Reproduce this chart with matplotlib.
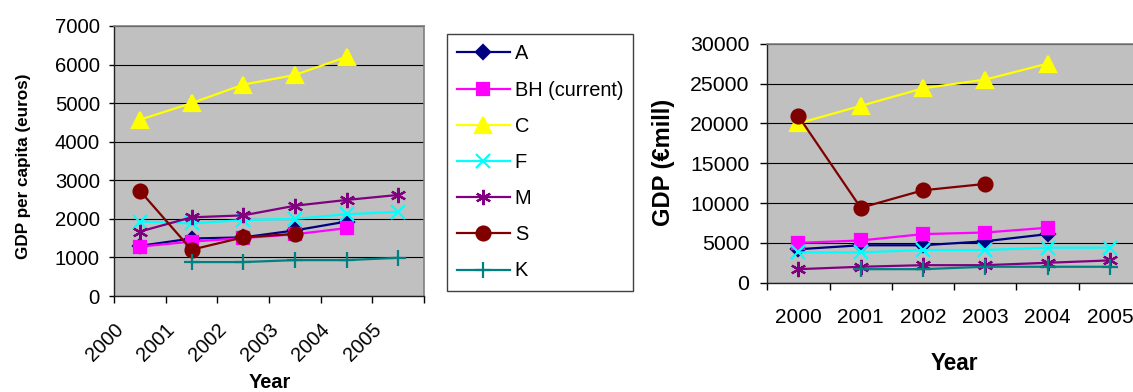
import numpy as np
import matplotlib
matplotlib.use("Agg")
import matplotlib.pyplot as plt
from matplotlib import font_manager
from matplotlib.transforms import ScaledTranslation

nan = np.nan
years = ['2000', '2001', '2002', '2003', '2004', '2005']
series = ['A', 'BH (current)', 'C', 'F', 'M', 'S', 'K']

# GDP per capita (euros)
pc_A = [1300, 1490, 1520, 1700, 1930, nan]
pc_BH = [1280, 1410, 1500, 1600, 1760, nan]
pc_C = [4570, 5000, 5480, 5730, 6200, nan]
pc_F = [1930, 1880, 1970, 2000, 2120, 2180]
pc_M = [1670, 2040, 2090, 2340, 2490, 2620]
pc_S = [2730, 1200, 1520, 1610, nan, nan]
pc_K = [nan, 880, 880, 930, 930, 990]

# GDP (EUR mill)
gdp_A = [4200, 4700, 4700, 5200, 6100, nan]
gdp_BH = [5000, 5300, 6100, 6300, 6900, nan]
gdp_C = [20000, 22200, 24400, 25500, 27500, nan]
gdp_F = [3800, 3800, 4100, 4100, 4400, 4400]
gdp_M = [1700, 2000, 2200, 2200, 2500, 2800]
gdp_S = [20900, 9400, 11600, 12400, nan, nan]
gdp_K = [nan, 1700, 1700, 2000, 2000, 2000]

colors = ['#000080', '#FF00FF', '#FFFF00', '#00FFFF', '#800080', '#800000', '#008080']
markers = ['D', 's', '^', 'x', (6, 2, 0), 'o', '+']
msizes = [7, 9, 11, 10, 11, 10, 11]

def has_font(name):
    try:
        font_manager.findfont(font_manager.FontProperties(family=name), fallback_to_default=False)
        return True
    except Exception:
        return False

base = 'Liberation Sans' if has_font('Liberation Sans') else 'DejaVu Sans'
plt.rcParams['font.family'] = [base, 'DejaVu Sans']

W, H = 1133, 392
fig = plt.figure(figsize=(W / 100, H / 100), dpi=100)

def px(x0, y0, x1, y1):
    return [x0 / W, 1 - y1 / H, (x1 - x0) / W, (y1 - y0) / H]

ax1 = fig.add_axes(px(114, 26, 424, 296))
ax2 = fig.add_axes(px(767.3, 43.7, 1141, 282.7))

left_data = [pc_A, pc_BH, pc_C, pc_F, pc_M, pc_S, pc_K]
right_data = [gdp_A, gdp_BH, gdp_C, gdp_F, gdp_M, gdp_S, gdp_K]
xs = np.arange(len(years))

handles = []
for ax, data in ((ax1, left_data), (ax2, right_data)):
    ax.set_facecolor('#C0C0C0')
    for name, vals, c, m, ms in zip(series, data, colors, markers, msizes):
        h, = ax.plot(xs, vals, color=c, marker=m, markersize=ms, markerfacecolor=c,
                     markeredgecolor=c, markeredgewidth=1.6, linewidth=1.6, label=name,
                     clip_on=False, zorder=3)
        if ax is ax1:
            handles.append(h)
    ax.set_xlim(-0.5, len(years) - 0.5)
    ax.set_xticks(xs)
    ax.set_xticks(np.arange(len(years) + 1) - 0.5, minor=True)
    ax.grid(axis='y', color='black', linewidth=0.8, zorder=1)
    ax.set_axisbelow(True)
    for s in ('top', 'right'):
        ax.spines[s].set_color('#808080')
        ax.spines[s].set_linewidth(1.2)
    for s in ('left', 'bottom'):
        ax.spines[s].set_color('#202020')
        ax.spines[s].set_linewidth(1.0)
    ax.tick_params(axis='x', which='major', length=0)
    ax.tick_params(axis='x', which='minor', length=5, width=1, direction='out')
    ax.tick_params(axis='y', direction='out', width=1)

# Left chart
ax1.set_ylim(0, 7000)
ax1.set_yticks(np.arange(0, 7001, 1000))
ax1.tick_params(axis='y', length=3.6, pad=6.5, labelsize=14.6)
ax1.set_xticklabels(years, rotation=45, ha='right', va='top', fontsize=14.4)
ax1.tick_params(axis='x', which='major', pad=17)
off = ScaledTranslation(-13 / 100, 0, fig.dpi_scale_trans)
for lab in ax1.get_xticklabels():
    lab.set_transform(lab.get_transform() + off)

# Right chart
ax2.set_ylim(0, 30000)
ax2.set_yticks(np.arange(0, 30001, 5000))
ax2.tick_params(axis='y', length=5, pad=8, labelsize=15.3)
ax2.set_xticklabels(years, fontsize=15)
ax2.tick_params(axis='x', which='major', pad=18.5)

# Axis titles
fig.text(23.3 / W, 1 - 166.7 / H, 'GDP per capita (euros)', rotation=90, ha='center', va='center',
         fontsize=12.3, fontweight='bold')
fig.text(270 / W, 0.001, 'Year', ha='center', va='bottom', fontsize=14.4, fontweight='bold')
fig.text(663.3 / W, 1 - 162.3 / H, 'GDP (€mill)', rotation=90, ha='center', va='center',
         fontsize=17, fontweight='bold')
fig.text(954.7 / W, 1 - 363.3 / H, 'Year', ha='center', va='center', fontsize=16.3, fontweight='bold')

# Legend
leg = fig.legend(handles=handles, loc='upper left', bbox_to_anchor=(446.7 / W, 1 - 34.3 / H),
                 bbox_transform=fig.transFigure, borderaxespad=0, fontsize=14.4,
                 frameon=True, fancybox=False, edgecolor='#404040', framealpha=1,
                 handlelength=2.65, handletextpad=0.25, labelspacing=0.86, borderpad=0.5)
leg.get_frame().set_linewidth(1.0)

fig.savefig('out.png', dpi=100)
